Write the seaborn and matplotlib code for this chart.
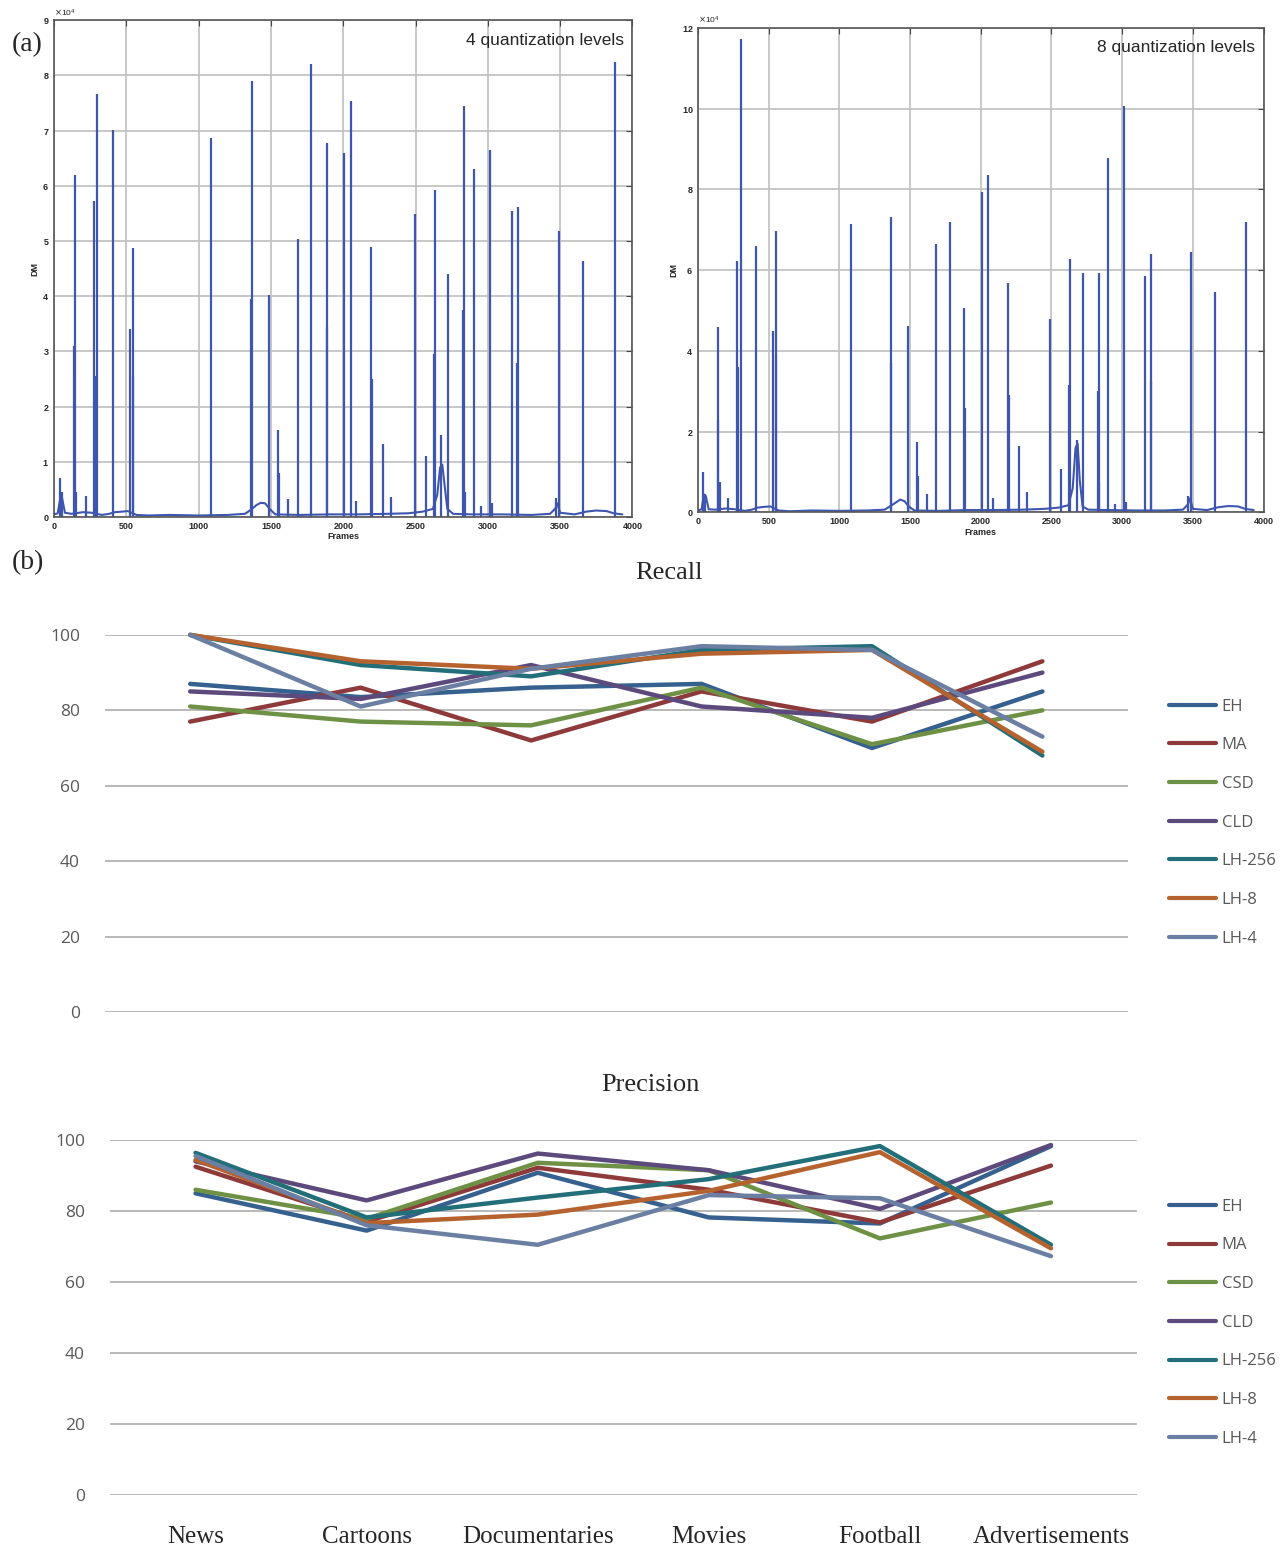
import numpy as np
import pandas as pd
import matplotlib
matplotlib.use("Agg")
import matplotlib.pyplot as plt
import seaborn as sns
from matplotlib.ticker import ScalarFormatter, MultipleLocator

# ---- (a) frame difference curves ----
q4_spike_frames = [38, 52, 140, 145, 154, 218, 276, 282, 300, 407, 527, 545, 547,
                   1085, 1362, 1367, 1484, 1548, 1556, 1620, 1687, 1780, 1885, 1890,
                   2007, 2051, 2089, 2193, 2197, 2275, 2333, 2493, 2569, 2627, 2633,
                   2676, 2723, 2830, 2833, 2840, 2903, 2953, 3017, 3032, 3165, 3205,
                   3212, 3471, 3491, 3660, 3881]
q4_spike_heights = [7100, 4500, 31000, 62000, 4500, 3800, 57300, 25500, 76700, 70200, 34000, 25500, 48700,
                    68600, 39500, 79000, 40300, 15800, 8000, 3300, 50400, 82100, 67700, 34500,
                    66000, 75300, 3000, 49000, 25000, 13300, 3600, 54900, 11100, 29500, 59200,
                    14800, 44100, 37500, 74500, 4500, 63000, 2000, 66500, 2500, 55400, 28000,
                    56200, 3500, 51800, 46400, 82400]

q8_spike_frames = [37, 50, 140, 144, 153, 215, 275, 280, 300, 408, 527, 548, 552,
                   1081, 1362, 1367, 1483, 1548, 1553, 1619, 1684, 1781, 1883, 1890,
                   2007, 2052, 2089, 2194, 2198, 2270, 2330, 2491, 2567, 2625, 2630,
                   2678, 2720, 2830, 2833, 2838, 2901, 2947, 3012, 3026, 3162, 3203,
                   3207, 3465, 3487, 3660, 3875]
q8_spike_heights = [10000, 4500, 23000, 46000, 7500, 3500, 62200, 36000, 117300, 66000, 45000, 39000, 69800,
                    71400, 37000, 73200, 46200, 17500, 9000, 4500, 66400, 72000, 50700, 26000,
                    79300, 83600, 3500, 56900, 29000, 16500, 5000, 47800, 10800, 31500, 62900,
                    18000, 59400, 30000, 59400, 7500, 87800, 2000, 100700, 2500, 58600, 32500,
                    64000, 4000, 64500, 54700, 72000]

base_frames = [0, 25, 40, 55, 75, 120, 200, 260, 330, 380, 420, 470, 510, 570, 650,
               800, 1000, 1200, 1320, 1370, 1400, 1430, 1460, 1490, 1530, 1700, 1900,
               2100, 2300, 2450, 2550, 2620, 2650, 2670, 2685, 2700, 2720, 2760, 2900,
               3100, 3300, 3430, 3465, 3480, 3500, 3600, 3680, 3750, 3820, 3870, 3930]
q4_base_values = [500, 700, 3000, 3500, 800, 600, 900, 800, 400, 600, 900, 1000, 1100, 400, 300,
                  400, 300, 400, 600, 1500, 2200, 2600, 2500, 1500, 500, 400, 500,
                  500, 600, 700, 1000, 1500, 4000, 9000, 9500, 6000, 1500, 600, 500,
                  500, 400, 600, 1500, 2500, 800, 500, 1000, 1200, 1100, 700, 500]
q8_base_values = [500, 800, 4500, 4000, 800, 700, 1000, 800, 400, 700, 1200, 1400, 1500, 500, 300,
                  500, 400, 500, 700, 1800, 2500, 3200, 2800, 1500, 500, 400, 600,
                  600, 700, 900, 1200, 1800, 6000, 16000, 17000, 8000, 1500, 700, 600,
                  500, 500, 700, 2000, 3500, 900, 600, 1300, 1600, 1500, 900, 600]

# ---- (b) recall / precision ----
categories = ["News", "Cartoons", "Documentaries", "Movies", "Football", "Advertisements"]
methods = ["EH", "MA", "CSD", "CLD", "LH-256", "LH-8", "LH-4"]
recall_eh = [87, 83.5, 86, 87, 70, 85]
recall_ma = [77, 86, 72, 85, 77, 93]
recall_csd = [81, 77, 76, 86, 71, 80]
recall_cld = [85, 83, 92, 81, 78, 90]
recall_lh256 = [100, 92, 89, 96, 97, 68]
recall_lh8 = [100, 93, 91, 95, 96, 69]
recall_lh4 = [100, 81, 91, 97, 96, 73]
precision_eh = [85, 74.5, 90.8, 78.2, 76.5, 98.3]
precision_ma = [92.5, 77, 92.2, 86, 76.8, 92.8]
precision_csd = [86, 77.8, 93.6, 91.5, 72.3, 82.4]
precision_cld = [94, 83, 96.2, 91.5, 80.6, 98.6]
precision_lh256 = [96.4, 78.2, 83.8, 89, 98.3, 70.5]
precision_lh8 = [94.4, 76.6, 79, 85.7, 96.6, 69.5]
precision_lh4 = [95.5, 76, 70.5, 84.5, 83.6, 67.3]

colors = ["#36618f", "#8e3a3b", "#6f9145", "#5d4a7c", "#226e79", "#b5622f", "#6b7fa3"]

sns.set_style("white")
plt.rcParams["font.family"] = ["Liberation Sans", "DejaVu Sans"]

fig = plt.figure(figsize=(12.88, 15.53), dpi=100)


def spike_panel(rect, frames, heights, bframes, bvalues, ymax, ystep, label):
    ax = fig.add_axes(rect)
    ax.vlines(frames, 0, heights, color="#3f56b0", lw=1.6)
    sns.lineplot(x=bframes, y=bvalues, ax=ax, color="#3f56b0", lw=1.5)
    ax.set_xlim(0, 4000)
    ax.set_ylim(0, ymax)
    ax.xaxis.set_major_locator(MultipleLocator(500))
    ax.yaxis.set_major_locator(MultipleLocator(ystep))
    fmt = ScalarFormatter(useMathText=True)
    fmt.set_powerlimits((4, 4))
    ax.yaxis.set_major_formatter(fmt)
    ax.yaxis.get_offset_text().set_fontsize(6)
    ax.grid(True, color="#c4c4c4", lw=1.3)
    ax.tick_params(direction="in", top=True, right=True, labelsize=6.5, length=4, color="#444444")
    for t in ax.get_xticklabels() + ax.get_yticklabels():
        t.set_fontweight("bold")
    for s in ax.spines.values():
        s.set_color("#555555")
        s.set_linewidth(1.2)
    ax.set_xlabel("Frames", fontsize=6.5, fontweight="bold", labelpad=1)
    ax.set_ylabel("DM", fontsize=6.5, fontweight="bold", labelpad=2)
    ax.text(0.985, 0.975, label, transform=ax.transAxes, ha="right", va="top", fontsize=12.5)
    return ax


spike_panel([0.042, 0.667, 0.449, 0.320], q4_spike_frames, q4_spike_heights,
            base_frames, q4_base_values, 90000, 10000, "4 quantization levels")
spike_panel([0.542, 0.670, 0.439, 0.312], q8_spike_frames, q8_spike_heights,
            base_frames, q8_base_values, 120000, 20000, "8 quantization levels")


def score_panel(rect, series, title, title_x, title_y, show_x, legend_y):
    ax = fig.add_axes(rect)
    rows = []
    for m, vals in zip(methods, series):
        for c, v in zip(categories, vals):
            rows.append({"category": c, "method": m, "value": v})
    df = pd.DataFrame(rows)
    sns.lineplot(data=df, x="category", y="value", hue="method", hue_order=methods,
                 palette=colors, lw=3.2, sort=False, ax=ax, legend=False, clip_on=False)
    ax.set_xlim(-0.5, 5.5)
    ax.set_ylim(0, 100)
    ax.set_yticks(range(0, 101, 20))
    ax.yaxis.grid(True, color="#b3b3b3", lw=1.3)
    for s in ax.spines.values():
        s.set_visible(False)
    ax.tick_params(axis="y", length=0, labelsize=12.5, labelcolor="#595959", pad=18)
    for t in ax.get_yticklabels():
        t.set_family(["Open Sans", "DejaVu Sans"])
    ax.set_xlabel("")
    ax.set_ylabel("")
    if show_x:
        ax.tick_params(axis="x", length=0, labelsize=18, pad=22)
        for t in ax.get_xticklabels():
            t.set_family(["Liberation Serif", "DejaVu Serif"])
    else:
        ax.set_xticklabels([])
        ax.tick_params(axis="x", length=0)
    fig.text(title_x, title_y, title, ha="center", va="center", fontsize=19,
             family=["Liberation Serif", "DejaVu Serif"])
    handles = [plt.Line2D([], [], color=c, lw=3) for c in colors]
    leg = fig.legend(handles, methods, loc="upper left", bbox_to_anchor=(0.9025, legend_y),
                     frameon=False, fontsize=12, handlelength=2.8, handletextpad=0.35,
                     labelspacing=1.36, borderaxespad=0)
    for t in leg.get_texts():
        t.set_color("#595959")
        t.set_family(["Open Sans", "DejaVu Sans"])
    return ax


score_panel([0.0815, 0.3484, 0.794, 0.2428],
            [recall_eh, recall_ma, recall_csd, recall_cld, recall_lh256, recall_lh8, recall_lh4],
            "Recall", 0.519, 1 - 573 / 1553, False, 1 - 692 / 1553)
score_panel([0.0854, 0.0373, 0.797, 0.2286],
            [precision_eh, precision_ma, precision_csd, precision_cld, precision_lh256,
             precision_lh8, precision_lh4],
            "Precision", 0.505, 1 - 1085 / 1553, True, 1 - 1192 / 1553)

fig.text(0.009, 1 - 45 / 1553, "(a)", fontsize=20, va="center",
         family=["Liberation Serif", "DejaVu Serif"])
fig.text(0.009, 1 - 563 / 1553, "(b)", fontsize=20, va="center",
         family=["Liberation Serif", "DejaVu Serif"])

fig.savefig("out.png", dpi=100)
